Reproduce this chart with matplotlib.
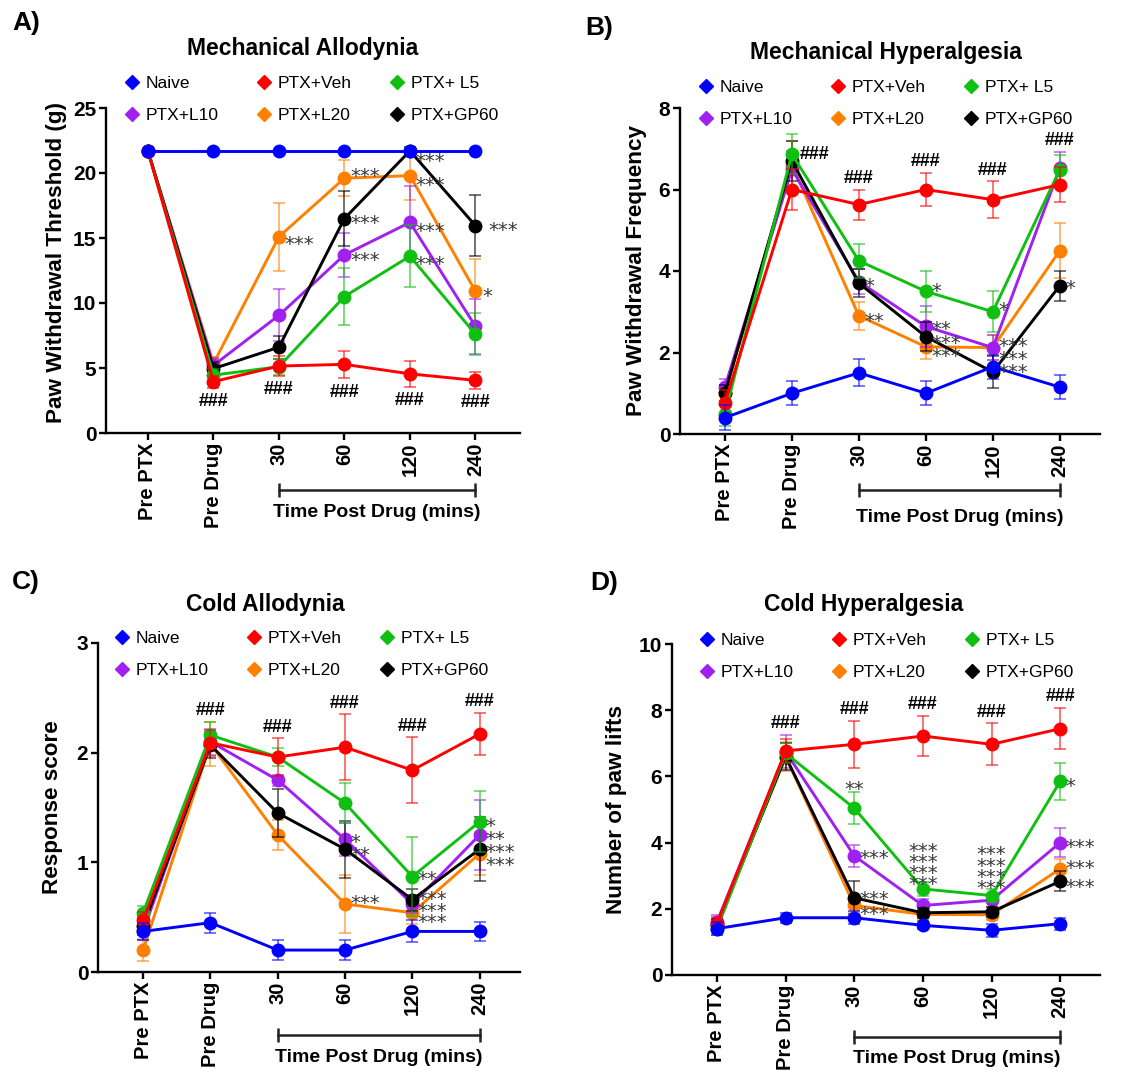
import matplotlib
matplotlib.use("Agg")
import matplotlib.pyplot as plt
import matplotlib.transforms as mtransforms
from matplotlib.colors import to_rgba
from matplotlib.lines import Line2D

plt.rcParams['font.family'] = ['Liberation Sans', 'DejaVu Sans']

groups = ["Naive", "PTX+Veh", "PTX+ L5", "PTX+L10", "PTX+L20", "PTX+GP60"]
colors = {"Naive": "#0000ff", "PTX+Veh": "#ff0000", "PTX+ L5": "#10c010",
          "PTX+L10": "#a020f0", "PTX+L20": "#ff8000", "PTX+GP60": "#000000"}
x_labels = ["Pre PTX", "Pre Drug", "30", "60", "120", "240"]

# A) Mechanical Allodynia - paw withdrawal threshold (g)
a_mean = {
    "Naive":    [21.7, 21.7, 21.7, 21.7, 21.7, 21.7],
    "PTX+Veh":  [21.7, 3.95, 5.15, 5.28, 4.55, 4.05],
    "PTX+ L5":  [21.7, 4.45, 5.1, 10.5, 13.6, 7.6],
    "PTX+L10":  [21.7, 5.2, 9.05, 13.7, 16.2, 8.2],
    "PTX+L20":  [21.7, 5.35, 15.1, 19.6, 19.8, 10.9],
    "PTX+GP60": [21.7, 4.95, 6.6, 16.5, 21.7, 15.95],
}
a_err = {
    "Naive":    [0, 0, 0, 0, 0, 0],
    "PTX+Veh":  [0, 0.45, 0.75, 1.05, 1.0, 0.65],
    "PTX+ L5":  [0, 0.5, 0.6, 2.2, 2.4, 1.6],
    "PTX+L10":  [0, 0.6, 2.0, 1.7, 2.8, 2.1],
    "PTX+L20":  [0, 0.5, 2.6, 1.4, 1.9, 2.5],
    "PTX+GP60": [0, 0.5, 0.9, 2.1, 0.3, 2.35],
}

# B) Mechanical Hyperalgesia - paw withdrawal frequency
b_mean = {
    "Naive":    [0.4, 1.0, 1.5, 1.0, 1.65, 1.15],
    "PTX+Veh":  [0.77, 6.0, 5.63, 6.0, 5.75, 6.12],
    "PTX+ L5":  [0.5, 6.87, 4.25, 3.5, 3.0, 6.49],
    "PTX+L10":  [1.15, 6.5, 3.74, 2.64, 2.12, 6.52],
    "PTX+L20":  [1.0, 6.6, 2.9, 2.14, 2.12, 4.5],
    "PTX+GP60": [1.0, 6.7, 3.7, 2.39, 1.52, 3.64],
}
b_err = {
    "Naive":    [0.3, 0.3, 0.33, 0.3, 0.3, 0.3],
    "PTX+Veh":  [0.3, 0.5, 0.37, 0.4, 0.45, 0.43],
    "PTX+ L5":  [0.3, 0.5, 0.42, 0.5, 0.5, 0.35],
    "PTX+L10":  [0.2, 0.45, 0.3, 0.5, 0.3, 0.4],
    "PTX+L20":  [0.2, 0.6, 0.34, 0.3, 0.3, 0.68],
    "PTX+GP60": [0.2, 0.5, 0.35, 0.35, 0.4, 0.37],
}

# C) Cold Allodynia - response score
c_mean = {
    "Naive":    [0.37, 0.45, 0.2, 0.2, 0.37, 0.37],
    "PTX+Veh":  [0.47, 2.09, 1.96, 2.05, 1.84, 2.17],
    "PTX+ L5":  [0.54, 2.16, 1.96, 1.54, 0.87, 1.37],
    "PTX+L10":  [0.37, 2.1, 1.75, 1.21, 0.62, 1.25],
    "PTX+L20":  [0.2, 2.08, 1.25, 0.62, 0.54, 1.08],
    "PTX+GP60": [0.42, 2.07, 1.45, 1.12, 0.66, 1.12],
}
c_err = {
    "Naive":    [0.08, 0.09, 0.09, 0.09, 0.1, 0.09],
    "PTX+Veh":  [0.08, 0.12, 0.17, 0.3, 0.3, 0.19],
    "PTX+ L5":  [0.06, 0.12, 0.08, 0.18, 0.36, 0.28],
    "PTX+L10":  [0.08, 0.12, 0.05, 0.15, 0.08, 0.32],
    "PTX+L20":  [0.1, 0.2, 0.14, 0.26, 0.1, 0.2],
    "PTX+GP60": [0.08, 0.12, 0.22, 0.26, 0.1, 0.29],
}

# D) Cold Hyperalgesia - number of paw lifts
d_mean = {
    "Naive":    [1.4, 1.73, 1.73, 1.5, 1.35, 1.55],
    "PTX+Veh":  [1.55, 6.77, 6.97, 7.22, 6.97, 7.44],
    "PTX+ L5":  [1.4, 6.7, 5.04, 2.6, 2.4, 5.85],
    "PTX+L10":  [1.6, 6.75, 3.6, 2.1, 2.26, 4.0],
    "PTX+L20":  [1.5, 6.6, 2.1, 1.83, 1.82, 3.21],
    "PTX+GP60": [1.5, 6.6, 2.33, 1.88, 1.91, 2.83],
}
d_err = {
    "Naive":    [0.2, 0.15, 0.2, 0.12, 0.2, 0.18],
    "PTX+Veh":  [0.2, 0.35, 0.71, 0.6, 0.63, 0.62],
    "PTX+ L5":  [0.2, 0.3, 0.49, 0.2, 0.2, 0.55],
    "PTX+L10":  [0.2, 0.5, 0.33, 0.2, 0.2, 0.45],
    "PTX+L20":  [0.2, 0.45, 0.2, 0.15, 0.15, 0.3],
    "PTX+GP60": [0.2, 0.4, 0.5, 0.15, 0.15, 0.3],
}

# significance marks: (group, time index, text, dx pts, dy pts, line spacing)
a_stars = [("PTX+L20", 2, "***", 4, -2, 1), ("PTX+L20", 3, "***", 4, 5, 1),
           ("PTX+GP60", 3, "***", 4, 0, 1), ("PTX+L10", 3, "***", 4, 0, 1),
           ("PTX+GP60", 4, "***", 4, -4, 1), ("PTX+L20", 4, "***", 4, -3, 1),
           ("PTX+L10", 4, "***", 4, -3, 1), ("PTX+ L5", 4, "***", 4, -2, 1),
           ("PTX+GP60", 5, "***", 9, 0, 1), ("PTX+L20", 5, "*", 5, 0, 1)]
b_stars = [("PTX+L10", 2, "*", 4, 0, 1), ("PTX+L20", 2, "**", 4, 0, 1),
           ("PTX+ L5", 3, "*", 4, 4, 1),
           ("PTX+GP60", 3, "**\n***\n***", 4, -1, 0.62),
           ("PTX+ L5", 4, "*", 4, 5, 1),
           ("PTX+L20", 4, "***\n***\n***", 4, -5, 0.6),
           ("PTX+GP60", 5, "*", 4, 2, 1)]
c_stars = [("PTX+GP60", 3, "*\n**", 4, 4, 0.6),
           ("PTX+L20", 3, "***", 4, 4, 1), ("PTX+ L5", 4, "**", 4, 2, 1),
           ("PTX+L20", 4, "***\n***\n***", 4, 5, 0.48),
           ("PTX+L10", 5, "*\n**\n***\n***", 4, -4, 0.6)]
d_stars = [("PTX+ L5", 2, "**", 0, 17, 1), ("PTX+L10", 2, "***", 4, 2, 1),
           ("PTX+GP60", 2, "***\n***", 4, -2.5, 0.75),
           ("PTX+ L5", 3, "***\n***\n***\n***", 0, 19, 0.48),
           ("PTX+ L5", 4, "***\n***\n***\n***", 0, 21, 0.48),
           ("PTX+ L5", 5, "*", 4, 0, 1), ("PTX+L10", 5, "***", 4, 0, 1),
           ("PTX+L20", 5, "***", 4, 4, 1), ("PTX+GP60", 5, "***", 4, -1, 1)]

W, H = 1127, 1077
fig = plt.figure(figsize=(W / 100, H / 100), dpi=100)


def px_axes(l, t, r, b):
    return fig.add_axes([l / W, 1 - b / H, (r - l) / W, (b - t) / H])


panels = [
    dict(box=(106, 108, 520, 433), mean=a_mean, err=a_err, stars=a_stars,
         ylim=25, yticks=[0, 5, 10, 15, 20, 25], xlim=(-0.64, 5.68),
         ylabel="Paw Withdrawal Threshold (g)", ylab_xy=(-0.094, 0.525), hash_below=True,
         hash_right_first=False, leg=(0.045, 1.098), title="Mechanical Allodynia",
         title_xy=(303, 48), letter="A)", letter_xy=(12, 23), brk=(-0.175, -0.246)),
    dict(box=(680, 108, 1100, 434), mean=b_mean, err=b_err, stars=b_stars,
         ylim=8, yticks=[0, 2, 4, 6, 8], xlim=(-0.67, 5.6),
         ylabel="Paw Withdrawal Frequency", ylab_xy=(-0.079, 0.5), hash_below=False,
         hash_right_first=True, leg=(0.045, 1.085), title="Mechanical Hyperalgesia",
         title_xy=(886, 52), letter="B)", letter_xy=(585, 28), brk=(-0.172, -0.255)),
    dict(box=(98, 643, 520, 972), mean=c_mean, err=c_err, stars=c_stars,
         ylim=3, yticks=[0, 1, 2, 3], xlim=(-0.67, 5.6),
         ylabel="Response score", ylab_xy=(-0.083, 0.5), hash_below=False,
         hash_right_first=False, leg=(0.04, 1.036), title="Cold Allodynia",
         title_xy=(265, 605), letter="C)", letter_xy=(12, 582), brk=(-0.19, -0.26)),
    dict(box=(672, 644, 1100, 975), mean=d_mean, err=d_err, stars=d_stars,
         ylim=10, yticks=[0, 2, 4, 6, 8, 10], xlim=(-0.655, 5.58),
         ylabel="Number of paw lifts", ylab_xy=(-0.104, 0.5), hash_below=False,
         hash_right_first=False, leg=(0.065, 1.033), title="Cold Hyperalgesia",
         title_xy=(864, 605), letter="D)", letter_xy=(590, 583), brk=(-0.188, -0.252)),
]

draw_order = ["PTX+L20", "PTX+L10", "PTX+GP60", "PTX+ L5", "PTX+Veh", "Naive"]
x = list(range(len(x_labels)))

for p in panels:
    ax = px_axes(*p["box"])
    for z, g in enumerate(draw_order):
        c = colors[g]
        ax.errorbar(x, p["mean"][g], yerr=p["err"][g], fmt='-o', color=c,
                    ecolor=to_rgba(c, 0.55), elinewidth=1.4, capsize=4.5,
                    capthick=1.4, lw=2.1, ms=9, zorder=3 + z, clip_on=False)

    # ### marks for PTX+Veh vs Naive
    for i in range(1, 6):
        if p["hash_below"]:
            yv = p["mean"]["PTX+Veh"][i] - p["err"]["PTX+Veh"][i]
            ax.annotate("###", (i, yv), xytext=(0, -4), textcoords='offset points',
                        ha='center', va='top', fontsize=13, fontweight='bold')
        elif i == 1 and p["hash_right_first"]:
            yv = p["mean"]["PTX+ L5"][i]
            ax.annotate("###", (i, yv), xytext=(6, 0), textcoords='offset points',
                        ha='left', va='center', fontsize=13, fontweight='bold')
        else:
            yv = max(p["mean"][g][i] + p["err"][g][i] for g in groups)
            ax.annotate("###", (i, yv), xytext=(0, 2), textcoords='offset points',
                        ha='center', va='bottom', fontsize=13, fontweight='bold')

    # star glyph sits high in the em box, so shift it down a little
    for g, i, txt, dx, dy, ls in p["stars"]:
        ax.annotate(txt, (i, p["mean"][g][i]), xytext=(dx, dy - 3.8),
                    textcoords='offset points', ha='left' if dx else 'center',
                    va='center', fontsize=14, color='#383838', family='DejaVu Sans',
                    linespacing=ls, zorder=20)

    ax.set_xlim(*p["xlim"])
    ax.set_ylim(0, p["ylim"])
    ax.set_yticks(p["yticks"])
    ax.set_xticks(x)
    ax.set_xticklabels(x_labels, rotation=90, fontweight='bold', fontsize=14.5)
    for lab in ax.get_yticklabels():
        lab.set_fontweight('bold')
        lab.set_fontsize(15)
    for s in ["top", "right"]:
        ax.spines[s].set_visible(False)
    for s in ["left", "bottom"]:
        ax.spines[s].set_linewidth(1.7)
    ax.tick_params(direction='out', length=5, width=1.7, pad=2)
    ax.set_ylabel(p["ylabel"], fontsize=16.2, fontweight='bold')
    ax.yaxis.set_label_coords(*p["ylab_xy"])

    # bracket under the post-drug time points
    trans = mtransforms.blended_transform_factory(ax.transData, ax.transAxes)
    yb, yt = p["brk"]
    ax.plot([2, 5], [yb, yb], transform=trans, clip_on=False, color='#222222',
            lw=1.8, marker='|', ms=10, mew=1.8)
    ax.text(3.5, yt, "Time Post Drug (mins)", transform=trans, ha='center',
            va='center', fontsize=14, fontweight='bold')

    # legend: row 1 Naive / PTX+Veh / PTX+ L5, row 2 L10 / L20 / GP60
    leg_order = ["Naive", "PTX+L10", "PTX+Veh", "PTX+L20", "PTX+ L5", "PTX+GP60"]
    handles = [Line2D([], [], marker='D', ls='none', color=colors[g], ms=7)
               for g in leg_order]
    ax.legend(handles, leg_order, ncol=3, loc='upper left', bbox_to_anchor=p["leg"],
              frameon=False, fontsize=12.5, handlelength=0.8, handletextpad=0.4,
              columnspacing=2.2, labelspacing=0.95, borderpad=0, borderaxespad=0)

    fig.text(p["title_xy"][0] / W, 1 - p["title_xy"][1] / H, p["title"],
             ha='center', va='center', fontsize=16.5, fontweight='bold')
    fig.text(p["letter_xy"][0] / W, 1 - p["letter_xy"][1] / H, p["letter"],
             ha='left', va='center', fontsize=19, fontweight='bold')

fig.savefig("out.png", dpi=100)
